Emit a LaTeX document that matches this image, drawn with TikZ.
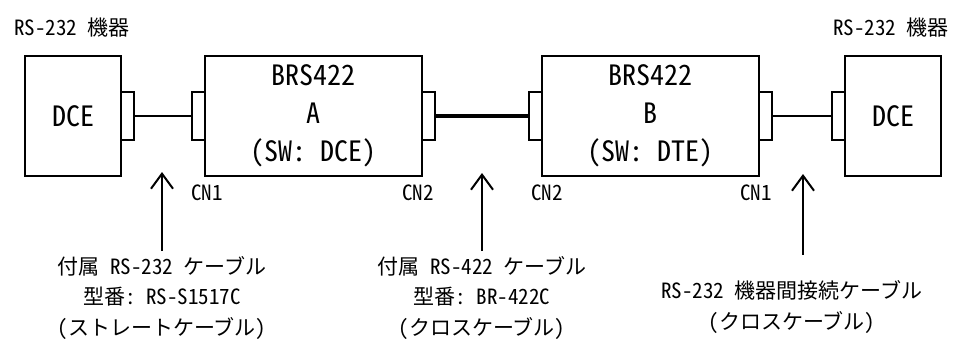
\documentclass[tikz,border=0pt]{standalone}
\usepackage{fontspec}
\setmainfont{Noto Sans CJK JP}[RawFeature=+hwid]
\usetikzlibrary{positioning, arrows.meta}

\newcommand\unitfont{\fontsize{28}{38}\selectfont}
\newcommand\notefont{\fontsize{21}{30.5}\selectfont}

\tikzset{
  unit/.style={draw, line width=2.6pt, minimum height=120pt, inner sep=0pt,
    outer sep=0pt, align=center, font=\unitfont},
  port/.style={draw, line width=2pt, fill=white, minimum width=13pt,
    minimum height=48pt, inner sep=0pt, outer sep=0pt},
  cable/.style={line width=1.4pt},
  note/.style={align=center, inner sep=2pt, font=\notefont},
  pointer/.style={line width=2pt, -{Straight Barb[length=15pt, width=22pt]}}
}

\begin{document}
\begin{tikzpicture}[x=1pt, y=-1pt]
    \useasboundingbox (0,0) rectangle (958,338);

    % devices and converters
    \node[unit, minimum width=96pt]  (dceL) at (73,116)    {DCE};
    \node[unit, minimum width=217pt] (brsA) at (313.5,116) {BRS422\\A\\（SW： DCE）};
    \node[unit, minimum width=217pt] (brsB) at (650.5,116) {BRS422\\B\\（SW： DTE）};
    \node[unit, minimum width=96pt]  (dceR) at (893,116)   {DCE};

    % connectors on the boxes
    \node[port, right=0pt of dceL] (pL)  {};
    \node[port, left=0pt of brsA]  (pA1) {};
    \node[port, right=0pt of brsA] (pA2) {};
    \node[port, left=0pt of brsB]  (pB2) {};
    \node[port, right=0pt of brsB] (pB1) {};
    \node[port, left=0pt of dceR]  (pR)  {};

    % cables
    \draw[cable] (pL) -- (pA1);
    \draw[cable, line width=3.6pt] (pA2) -- (pB2);
    \draw[cable] (pB1) -- (pR);

    % connector names
    \node[note] (cnA1) at (207,193) {CN1};
    \node[note] (cnA2) at (418,193) {CN2};
    \node[note] (cnB2) at (547,193) {CN2};
    \node[note] (cnB1) at (756,193) {CN1};

    % equipment titles
    \node[note] (devL) at (72,28)  {RS-232 機器};
    \node[note] (devR) at (891,28) {RS-232 機器};

    % cable notes
    \node[note] (capA) at (162,298) {付属 RS-232 ケーブル\\型番： RS-S1517C\\（ストレートケーブル）};
    \node[note] (capC) at (482,298) {付属 RS-422 ケーブル\\型番： BR-422C\\（クロスケーブル）};
    \node[note] (capR) at (792,307) {RS-232 機器間接続ケーブル\\（クロスケーブル）};

    % arrows up to the cables
    \coordinate (tipA) at (162,172);
    \coordinate (tipC) at (482,173);
    \coordinate (tipR) at (803,174);
    \draw[pointer, shorten <=3pt] (capA.north -| tipA) -- (tipA);
    \draw[pointer, shorten <=3pt] (capC.north -| tipC) -- (tipC);
    \draw[pointer, shorten <=24pt] (capR.north -| tipR) -- (tipR);
\end{tikzpicture}
\end{document}
